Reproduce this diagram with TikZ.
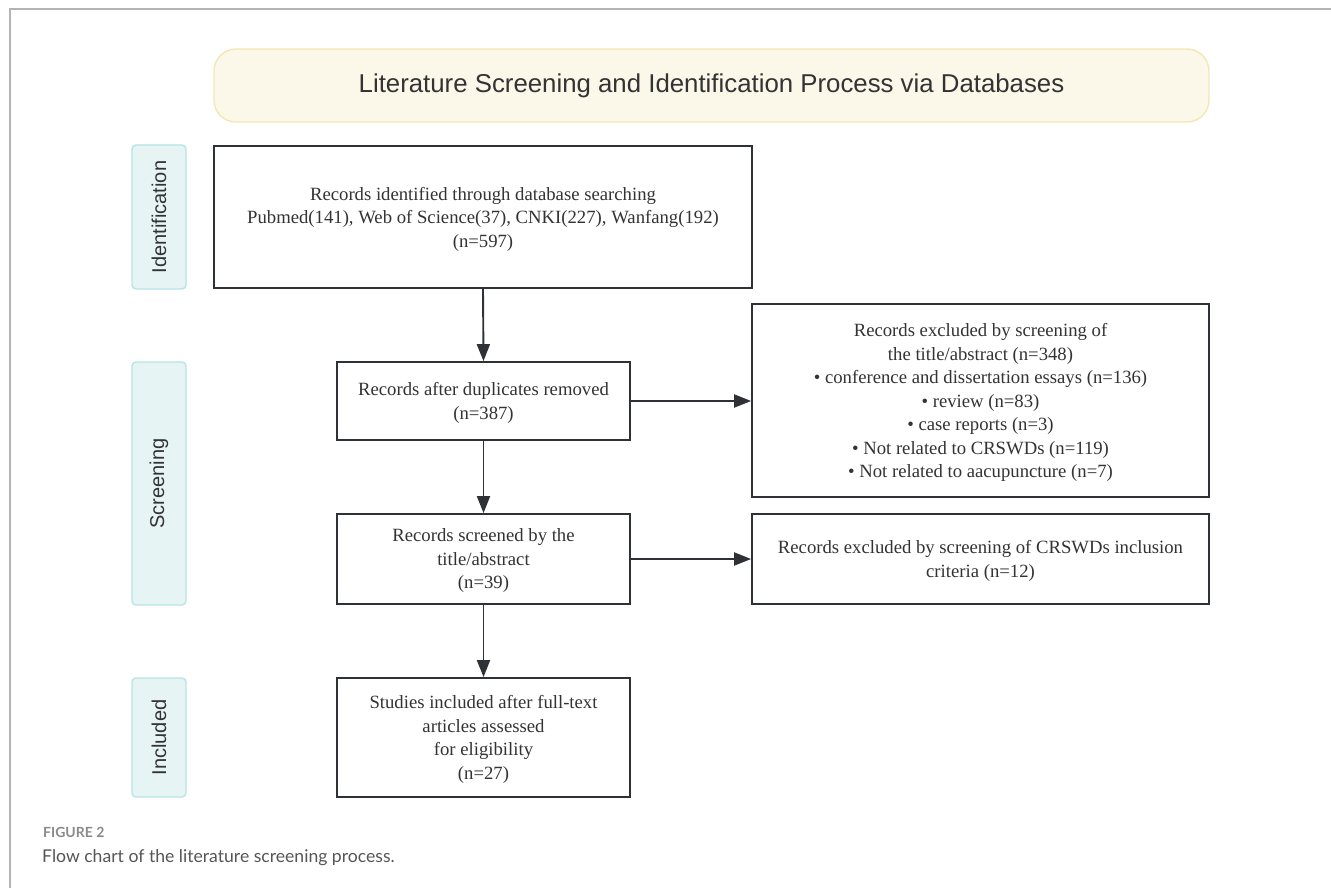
\documentclass[tikz,border=0pt]{standalone}
\usepackage{fontspec}
\setmainfont{Liberation Serif}
\setsansfont{Liberation Sans}
\newfontfamily\capfont{Lato}
\usetikzlibrary{arrows.meta,positioning}
\definecolor{framegray}{HTML}{B4B4B4}
\definecolor{titlefill}{HTML}{FBF8EA}
\definecolor{titleline}{HTML}{F3E7B5}
\definecolor{stagefill}{HTML}{E6F4F4}
\definecolor{stageline}{HTML}{B6E4E8}
\definecolor{boxline}{HTML}{2E3236}
\definecolor{inktext}{HTML}{333333}
\definecolor{capgray}{HTML}{8A8A8A}
\definecolor{captext}{HTML}{555555}

\begin{document}
\begin{tikzpicture}[x=1pt,y=-1pt,
  flowbox/.style={draw=boxline,line width=1.8pt,fill=white,align=center,text=inktext,
    inner sep=0pt,font=\fontsize{18.7}{23.5}\selectfont,text depth=-10pt},
  stagebox/.style={draw=stageline,line width=1.4pt,fill=stagefill,rounded corners=4pt,
    minimum width=54pt,text=inktext,font=\sffamily\fontsize{20}{22}\selectfont},
  flowarrow/.style={draw=boxline,line width=1.9pt,-{Triangle[length=17pt,width=13pt]}}]
  \useasboundingbox (0,0) rectangle (1331,888);
  \draw[framegray,line width=1.5pt] (10,888) -- (10,9) -- (1331,9);

  % title banner
  \node[draw=titleline,line width=1.4pt,fill=titlefill,rounded corners=22pt,
    minimum width=995pt,minimum height=73pt,text=inktext,
    font=\sffamily\fontsize{25.8}{30}\selectfont] (title) at (711.5,85.5)
    {Literature Screening and Identification Process via Databases};

  % stage labels
  \node[stagebox,minimum height=144pt] (ident) at (159,217) {\rotatebox{90}{Identification}};
  \node[stagebox,minimum height=243pt] (screen) at (159,483.5) {\rotatebox{90}{Screening}};
  \node[stagebox,minimum height=119pt] (incl) at (159,737.5) {\rotatebox{90}{Included}};

  % flow boxes
  \node[flowbox,minimum width=538pt,minimum height=142pt] (found) at (483,217)
    {Records identified through database searching\\
     Pubmed(141), Web of Science(37), CNKI(227), Wanfang(192)\\(n=597)};
  \node[flowbox,minimum width=293pt,minimum height=78pt] (dedup) at (483.5,401)
    {Records after duplicates removed\\(n=387)};
  \node[flowbox,minimum width=457pt,minimum height=193pt] (excl1) at (980.5,400.5)
    {Records excluded by screening of\\the title/abstract (n=348)\\
     \textbullet{} conference and dissertation essays (n=136)\\
     \textbullet{} review (n=83)\\
     \textbullet{} case reports (n=3)\\
     \textbullet{} Not related to CRSWDs (n=119)\\
     \textbullet{} Not related to aacupuncture (n=7)};
  \node[flowbox,minimum width=293pt,minimum height=90pt] (screened) at (483.5,559)
    {Records screened by the\\title/abstract\\(n=39)};
  \node[flowbox,minimum width=457pt,minimum height=90pt] (excl2) at (980.5,559)
    {Records excluded by screening of CRSWDs inclusion\\criteria (n=12)};
  \node[flowbox,minimum width=293pt,minimum height=119pt] (incstudy) at (483.5,737.5)
    {Studies included after full-text\\articles assessed\\for eligibility\\(n=27)};

  % connectors
  \draw[flowarrow] (found.south) -- (dedup.north);
  \draw[flowarrow] (dedup.south) -- (screened.north);
  \draw[flowarrow] (screened.south) -- (incstudy.north);
  \draw[flowarrow] (dedup.east) -- (dedup.east -| excl1.west);
  \draw[flowarrow] (screened.east) -- (excl2.west);

  % caption
  \node[anchor=base west,inner sep=0pt,text=capgray,font=\capfont\bfseries\fontsize{14}{16}\selectfont]
    (capnum) at (43,837) {FIGURE 2};
  \node[anchor=base west,inner sep=0pt,text=captext,font=\capfont\fontsize{17.6}{20}\selectfont]
    (captxt) at (42,862) {Flow chart of the literature screening process.};
\end{tikzpicture}
\end{document}
